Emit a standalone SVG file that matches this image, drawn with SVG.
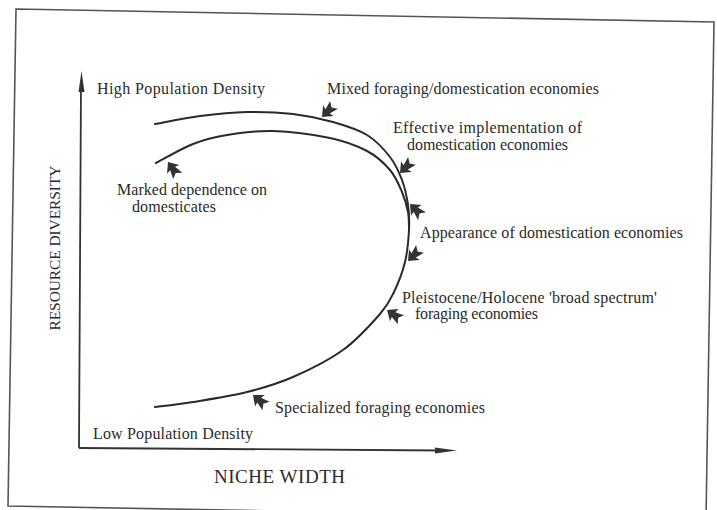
<svg xmlns="http://www.w3.org/2000/svg" xmlns:xlink="http://www.w3.org/1999/xlink" width="717" height="510" viewBox="0 0 717 510">
<style>
.t{font-family:"Liberation Serif","Times New Roman",serif;font-size:16px;fill:#2a2a2a}
.ax{font-family:"Liberation Serif","Times New Roman",serif;font-size:19px;fill:#2a2a2a}
.ay{font-family:"Liberation Serif","Times New Roman",serif;font-size:15.5px;fill:#2a2a2a}
.ln{fill:none;stroke:#2a2a2a;stroke-width:2;stroke-linecap:round}
.axis{fill:none;stroke:#333;stroke-width:1.8}
.pt{fill:#333}
</style>
<defs>
<path id="pt" d="M0,0 L-9,-7.5 L-8,-3 L-17,-5.5 L-13.5,0 L-17,5.5 L-8,3 L-9,7.5 Z"/>
</defs>
<rect width="717" height="510" fill="#fff"/>
<g id="frame">
<polygon points="16,9 714,22 706,519 8,506" fill="none" stroke="#555" stroke-width="1.6"/>
</g>
<g id="axes">
<line class="axis" x1="81" y1="85" x2="79" y2="448"/>
<polygon points="81.5,71 84.5,92 78.5,92" fill="#333"/>
<line class="axis" x1="79" y1="448" x2="440" y2="450.5"/>
<polygon points="457,450.6 435,447.6 435,453.6" fill="#333"/>
</g>
<g id="connectors">
<path id="outer" class="ln" d="M155,124 C162.5,122.7 184.7,118 200,116 C215.3,114 231.5,112.3 247,112 C262.5,111.7 278.7,112.3 293,114 C307.3,115.7 320.7,118.5 333,122 C345.3,125.5 357.5,129.2 367,135 C376.5,140.8 384.2,149.5 390,157 C395.8,164.5 399,172 402,180 C405,188 406.8,196.7 408,205 C409.2,213.3 409.5,220.5 409,230 C408.5,239.5 407.5,251.7 405,262 C402.5,272.3 398.2,283.3 394,292 C389.8,300.7 388.5,304.3 380,314 C371.5,323.7 357.5,339.5 343,350 C328.5,360.5 309,370 293,377 C277,384 263.7,387.8 247,392 C230.3,396.2 208.3,399.5 193,402 C177.7,404.5 161.3,406.2 155,407"/>
<path id="inner" class="ln" d="M156,163 C162.2,159.8 181.2,148.7 193,144 C204.8,139.3 213.7,137.2 227,135 C240.3,132.8 255.8,130.5 273,131 C290.2,131.5 314.3,134.7 330,138 C345.7,141.3 357,145.7 367,151 C377,156.3 384.2,163.2 390,170 C395.8,176.8 399,185 402,192 C405,199 406.8,206 408,212 C409.2,218 408.8,225.3 409,228"/>
</g>
<g id="pointers" class="pt">
<use xlink:href="#pt" href="#pt" transform="translate(322,117) rotate(135)"/>
<use xlink:href="#pt" href="#pt" transform="translate(400,173) rotate(135)"/>
<use xlink:href="#pt" href="#pt" transform="translate(410,204) rotate(-135)"/>
<use xlink:href="#pt" href="#pt" transform="translate(408,261) rotate(135)"/>
<use xlink:href="#pt" href="#pt" transform="translate(387,310) rotate(-145)"/>
<use xlink:href="#pt" href="#pt" transform="translate(253,395) rotate(-140)"/>
<use xlink:href="#pt" href="#pt" transform="translate(168,162) rotate(-125)"/>
</g>
<g id="high"><text class="t" x="97" y="94" textLength="168">High Population Density</text></g>
<g id="mixed"><text class="t" x="327" y="94" textLength="272">Mixed foraging/domestication economies</text></g>
<g id="effective">
<text class="t" x="393" y="133" textLength="189">Effective implementation of</text>
<text class="t" x="407" y="150" textLength="161">domestication economies</text>
</g>
<g id="marked">
<text class="t" x="117" y="195" textLength="150">Marked dependence on</text>
<text class="t" x="132" y="212" textLength="84">domesticates</text>
</g>
<g id="appearance"><text class="t" x="420" y="238" textLength="263">Appearance of domestication economies</text></g>
<g id="pleistocene">
<text class="t" x="402" y="303" textLength="255">Pleistocene/Holocene 'broad spectrum'</text>
<text class="t" x="415" y="319" textLength="123">foraging economies</text>
</g>
<g id="specialized"><text class="t" x="275" y="413" textLength="210">Specialized foraging economies</text></g>
<g id="low"><text class="t" x="93" y="439" textLength="160">Low Population Density</text></g>
<g id="xlabel"><text class="ax" x="214" y="483" textLength="131">NICHE WIDTH</text></g>
<g id="ylabel"><text class="ay" transform="translate(60,248) rotate(-90)" x="0" y="0" text-anchor="middle" textLength="165">RESOURCE DIVERSITY</text></g>
</svg>
